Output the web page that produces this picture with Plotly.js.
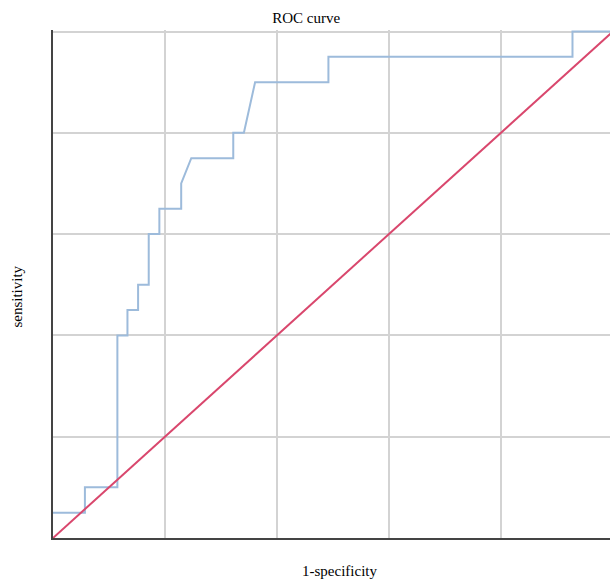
<!DOCTYPE html>
<html>
<head>
<meta charset="utf-8">
<script src="https://cdn.plot.ly/plotly-3.0.1.min.js"></script>
<style>html,body{margin:0;padding:0;background:#fff;}</style>
</head>
<body>
<div id="chart" style="width:610px;height:579px;"></div>
<script>
// ROC curve points (1-specificity, sensitivity)
const fpr = [0, 0.057, 0.057, 0.115, 0.115, 0.133, 0.133, 0.152, 0.152, 0.171, 0.171, 0.19, 0.19, 0.229, 0.229, 0.247, 0.322, 0.322, 0.341, 0.361, 0.492, 0.492, 0.928, 0.928, 1.0];
const tpr = [0.05, 0.05, 0.1, 0.1, 0.4, 0.4, 0.45, 0.45, 0.5, 0.5, 0.6, 0.6, 0.65, 0.65, 0.7, 0.75, 0.75, 0.8, 0.8, 0.9, 0.9, 0.95, 0.95, 1.0, 1.0];
// reference diagonal
const diagX = [0, 1];
const diagY = [0, 1];
const chartTitle = "ROC curve";
const xTitle = "1-specificity";
const yTitle = "sensitivity";

const font = "'Liberation Serif', 'Times New Roman', Times, serif";

const data = [
  {x: fpr, y: tpr, type: "scatter", mode: "lines", line: {color: "#9dbbdb", width: 2}, hoverinfo: "skip"},
  {x: diagX, y: diagY, type: "scatter", mode: "lines", line: {color: "#d9476d", width: 2}, hoverinfo: "skip"}
];

const layout = {
  width: 610, height: 579,
  margin: {l: 53, r: 0, t: 30, b: 41},
  paper_bgcolor: "#ffffff", plot_bgcolor: "#ffffff",
  showlegend: false,
  font: {family: font, color: "#000"},
  title: {text: chartTitle, font: {family: font, size: 15, color: "#000"}, x: 0.502, xanchor: "center", y: 0.969, yanchor: "middle"},
  xaxis: {
    range: [0, 0.995], dtick: 0.2, tick0: 0,
    showticklabels: false, ticks: "",
    showgrid: true, gridcolor: "#d3d3d3", gridwidth: 2,
    zeroline: false,
    showline: true, linecolor: "#444", linewidth: 2,
    automargin: false, fixedrange: true
  },
  yaxis: {
    range: [0, 1.003], dtick: 0.2, tick0: 0,
    showticklabels: false, ticks: "",
    showgrid: true, gridcolor: "#d3d3d3", gridwidth: 2,
    zeroline: false,
    showline: true, linecolor: "#444", linewidth: 2,
    automargin: false, fixedrange: true
  },
  annotations: [
    {text: xTitle, xref: "paper", yref: "paper", x: 0.5135, y: -0.0651, xanchor: "center", yanchor: "middle",
     showarrow: false, font: {family: font, size: 15, color: "#000"}},
    {text: yTitle, xref: "paper", yref: "paper", x: -0.0646, y: 0.4753, xanchor: "center", yanchor: "middle",
     textangle: -90, showarrow: false, font: {family: font, size: 15, color: "#000"}}
  ]
};

Plotly.newPlot("chart", data, layout, {displayModeBar: false, staticPlot: true});
</script>
</body>
</html>
